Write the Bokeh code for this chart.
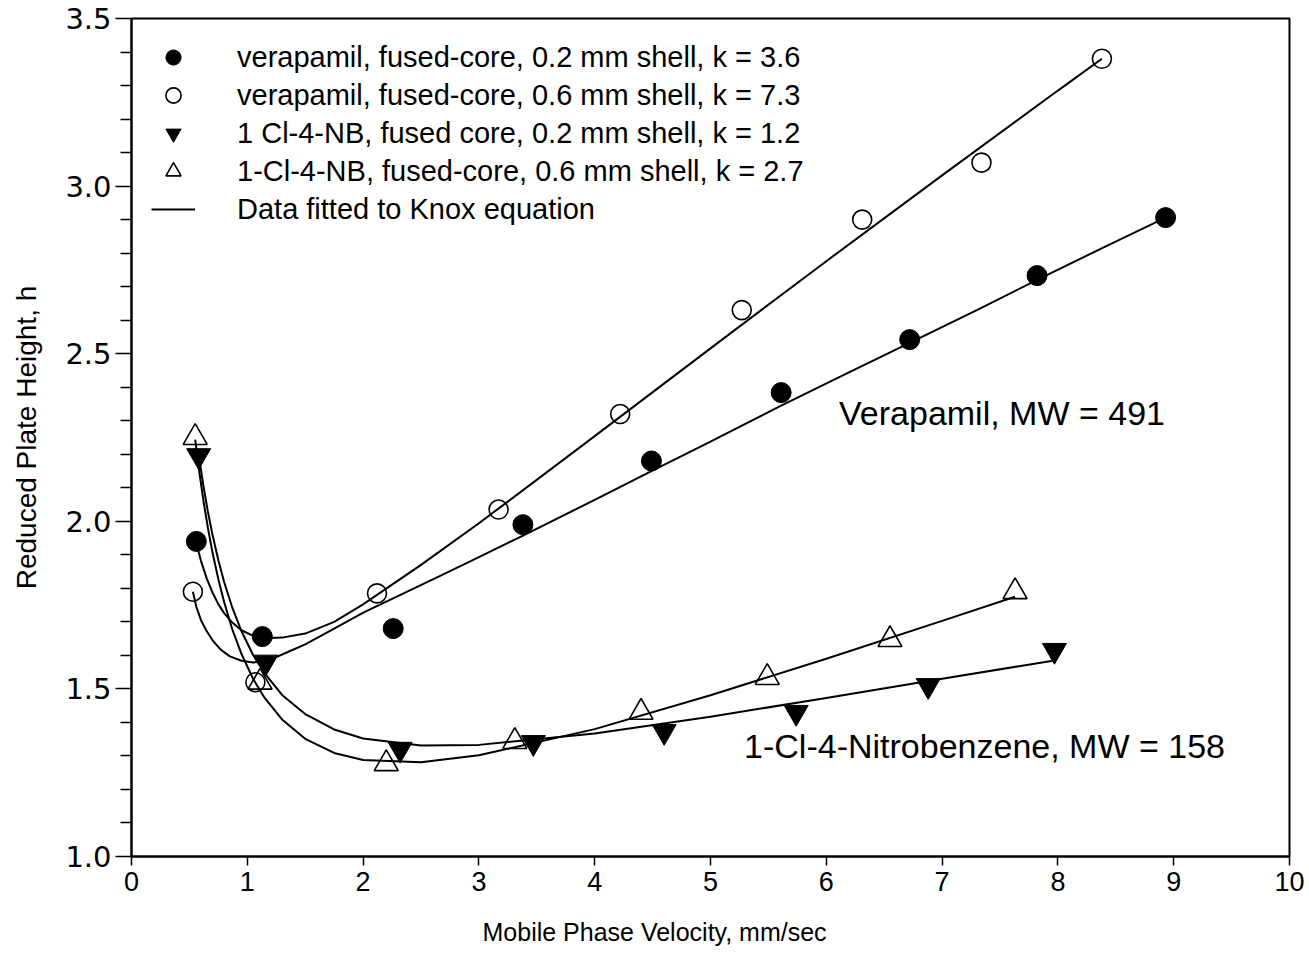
from bokeh.plotting import figure
from bokeh.models import Legend, LegendItem, Label, Range1d, FixedTicker, CustomJSTickFormatter, Title
from bokeh.embed import file_html
from bokeh.resources import INLINE

# ---------------- data ----------------
# verapamil, fused-core, 0.2 mm shell (filled circles)
ver02_v = [0.56, 1.13, 2.26, 3.38, 4.49, 5.61, 6.72, 7.82, 8.93]
ver02_h = [1.94, 1.656, 1.68, 1.99, 2.18, 2.384, 2.542, 2.733, 2.906]
# verapamil, fused-core, 0.6 mm shell (open circles)
ver06_v = [0.53, 1.07, 2.12, 3.17, 4.22, 5.27, 6.31, 7.34, 8.38]
ver06_h = [1.79, 1.52, 1.785, 2.035, 2.32, 2.63, 2.90, 3.07, 3.38]
# 1-Cl-4-NB, 0.2 mm shell (filled down triangles)
nb02_v = [0.58, 1.16, 2.32, 3.47, 4.60, 5.74, 6.88, 7.97]
nb02_h = [2.196, 1.58, 1.32, 1.34, 1.373, 1.43, 1.51, 1.615]
# 1-Cl-4-NB, 0.6 mm shell (open up triangles)
nb06_v = [0.55, 1.11, 2.20, 3.31, 4.40, 5.49, 6.55, 7.63]
nb06_h = [2.25, 1.52, 1.277, 1.343, 1.43, 1.534, 1.647, 1.79]

# fitted curves (Knox equation)
fitA_v = [0.56, 0.60, 0.65, 0.70, 0.75, 0.80, 0.87, 0.95, 1.05, 1.15, 1.3, 1.5, 1.75,
          2.0, 2.5, 3.0, 4.0, 5.0, 6.0, 7.0, 8.0, 8.38]
fitA_h = [1.934, 1.882, 1.829, 1.787, 1.753, 1.726, 1.698, 1.675, 1.658, 1.651, 1.653,
          1.665, 1.700, 1.752, 1.870, 1.994, 2.254, 2.516, 2.776, 3.032, 3.285, 3.380]
fitB_v = [0.53, 0.56, 0.60, 0.65, 0.70, 0.77, 0.85, 0.95, 1.05, 1.14, 1.23, 1.35, 1.5,
          1.75, 2.01, 2.30, 2.67, 3.0, 3.385, 4.0, 4.49, 5.0, 5.61, 6.2, 6.72, 7.3,
          7.82, 8.4, 8.93]
fitB_h = [1.79, 1.745, 1.705, 1.672, 1.645, 1.617, 1.597, 1.584, 1.579, 1.582, 1.592,
          1.610, 1.633, 1.680, 1.729, 1.777, 1.838, 1.893, 1.958, 2.064, 2.15, 2.238,
          2.345, 2.445, 2.532, 2.63, 2.72, 2.818, 2.906]
fitC_v = [0.58, 0.62, 0.66, 0.70, 0.75, 0.80, 0.87, 0.95, 1.05, 1.15, 1.3, 1.5, 1.75,
          2.0, 2.5, 3.0, 4.0, 5.0, 6.0, 7.0, 7.97]
fitC_h = [2.200, 2.108, 2.028, 1.959, 1.884, 1.819, 1.743, 1.672, 1.601, 1.546, 1.482,
          1.425, 1.379, 1.352, 1.331, 1.333, 1.367, 1.417, 1.473, 1.530, 1.585]
fitD_v = [0.55, 0.58, 0.62, 0.66, 0.70, 0.75, 0.80, 0.87, 0.95, 1.05, 1.15, 1.3, 1.5,
          1.75, 2.0, 2.5, 3.0, 4.0, 5.0, 6.0, 7.0, 7.63]
fitD_h = [2.244, 2.161, 2.064, 1.980, 1.906, 1.827, 1.759, 1.678, 1.604, 1.530, 1.473,
          1.409, 1.351, 1.309, 1.288, 1.281, 1.302, 1.380, 1.481, 1.590, 1.703, 1.775]

x_ticks = [0, 1, 2, 3, 4, 5, 6, 7, 8, 9, 10]
y_ticks = [1.0, 1.5, 2.0, 2.5, 3.0, 3.5]
y_minor = [1.1, 1.2, 1.3, 1.4, 1.6, 1.7, 1.8, 1.9, 2.1, 2.2, 2.3, 2.4,
           2.6, 2.7, 2.8, 2.9, 3.1, 3.2, 3.3, 3.4]

legend_labels = [
    "verapamil, fused-core, 0.2 mm shell, k = 3.6",
    "verapamil, fused-core, 0.6 mm shell, k = 7.3",
    "1 Cl-4-NB, fused core, 0.2 mm shell, k = 1.2",
    "1-Cl-4-NB, fused-core, 0.6 mm shell, k = 2.7",
    "Data fitted to Knox equation",
]
x_title = "Mobile Phase Velocity, mm/sec"
y_title = "Reduced Plate Height, h"

SANS = "Liberation Sans"
WIDE = "DejaVu Sans"

p = figure(width=1309, height=970, output_backend="svg", toolbar_location=None,
           x_range=Range1d(0, 10), y_range=Range1d(1.0, 3.5),
           min_border_left=131, min_border_right=20, min_border_top=18,
           min_border_bottom=114)
p.background_fill_color = "white"
p.border_fill_color = "white"
p.outline_line_color = "black"
p.outline_line_width = 2
p.xgrid.visible = False
p.ygrid.visible = False

# curves
lc = "black"
rA = p.line(fitA_v, fitA_h, line_color=lc, line_width=2)
p.line(fitB_v, fitB_h, line_color=lc, line_width=2)
p.line(fitC_v, fitC_h, line_color=lc, line_width=2)
p.line(fitD_v, fitD_h, line_color=lc, line_width=2)

# markers
r1 = p.scatter(ver02_v, ver02_h, marker="circle", size=20, fill_color="black", line_color="black")
r2 = p.scatter(ver06_v, ver06_h, marker="circle", size=19, fill_color=None, line_color="black", line_width=1.6)
r3 = p.scatter(nb02_v, nb02_h, marker="inverted_triangle", size=24, fill_color="black", line_color="black")
r4 = p.scatter(nb06_v, nb06_h, marker="triangle", size=24, fill_color=None, line_color="black", line_width=1.6)

legend = Legend(items=[LegendItem(label=l, renderers=[r]) for l, r in
                       zip(legend_labels, [r1, r2, r3, r4, rA])],
                location="top_left", border_line_color=None, background_fill_alpha=0,
                glyph_width=44, glyph_height=38, label_height=30, spacing=0,
                label_standoff=42, margin=20, padding=0,
                label_text_font=SANS, label_text_font_size="29px",
                label_text_color="black")
p.add_layout(legend)

# axes
xa = p.xaxis[0]
xa.ticker = FixedTicker(ticks=x_ticks)
xa.axis_line_width = 2
xa.major_tick_out = 9
xa.major_tick_in = 0
xa.major_tick_line_width = 1.5
xa.minor_tick_out = 0
xa.major_label_standoff = 6
xa.major_label_text_font = SANS
xa.major_label_text_font_size = "27px"
xa.major_label_text_color = "black"

ya = p.yaxis[0]
ya.ticker = FixedTicker(ticks=y_ticks, minor_ticks=y_minor)
ya.formatter = CustomJSTickFormatter(code="return tick.toFixed(1);")
ya.axis_line_width = 2
ya.major_tick_out = 16
ya.major_tick_in = 0
ya.minor_tick_out = 11
ya.minor_tick_in = 0
ya.major_tick_line_width = 1.5
ya.minor_tick_line_width = 1.5
ya.major_label_standoff = 4
ya.major_label_text_font = WIDE
ya.major_label_text_font_size = "29px"
ya.major_label_text_color = "black"
ya.axis_label = y_title
ya.axis_label_text_font = SANS
ya.axis_label_text_font_size = "28px"
ya.axis_label_text_font_style = "normal"
ya.axis_label_standoff = 20
ya.axis_label_text_color = "black"

# x-axis title (sits left of the frame centre in the original)
p.add_layout(Title(text=x_title, align="left", offset=351, standoff=44,
                   text_font=SANS, text_font_size="25px", text_font_style="normal",
                   text_color="black"), "below")

p.add_layout(Label(x=6.11, y=2.322, text="Verapamil, MW = 491", text_font=SANS,
                   text_font_size="34px", text_baseline="middle", text_color="black"))
p.add_layout(Label(x=5.29, y=1.331, text="1-Cl-4-Nitrobenzene, MW = 158", text_font=SANS,
                   text_font_size="34px", text_baseline="middle", text_color="black"))

open("out.html", "w").write(file_html(p, INLINE))
